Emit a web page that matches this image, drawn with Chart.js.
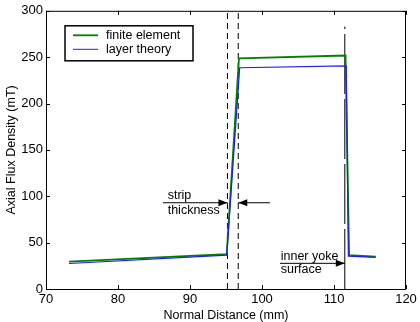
<!DOCTYPE html>
<html>
<head>
<meta charset="utf-8">
<script src="https://cdn.jsdelivr.net/npm/chart.js@4"></script>
<style>
  html, body { margin: 0; padding: 0; background: #fff; }
  #wrap { width: 420px; height: 322px; }
</style>
</head>
<body>
<div id="wrap"><canvas id="chart"></canvas></div>
<script>
// values
const feX = [73.2, 95.1, 96.8, 111.6, 112.1, 115.8];
const feY = [29.5, 37.5, 248.6, 251.8, 36.5, 35];
const ltX = [73.2, 95.1, 96.9, 111.7, 112.0, 115.8];
const ltY = [27.5, 36.5, 238.6, 240.5, 35.5, 34];
const xTicks = [70, 80, 90, 100, 110, 120];
const yTicks = [0, 50, 100, 150, 200, 250, 300];
const stripEdges = [95.2, 96.7];
const yokeX = 111.5;
const yokeTop = 283;

const FONT = '"Liberation Sans", Arial, Helvetica, sans-serif';
const pts = (xs, ys) => xs.map((x, i) => ({ x, y: ys[i] }));

function arrow(ctx, x1, y1, x2, y2) {
  ctx.beginPath();
  ctx.moveTo(x1, y1);
  ctx.lineTo(x2, y2);
  ctx.stroke();
  const dir = Math.sign(x2 - x1);
  ctx.beginPath();
  ctx.moveTo(x2, y2);
  ctx.lineTo(x2 - dir * 9, y2 - 3.5);
  ctx.lineTo(x2 - dir * 9, y2 + 3.5);
  ctx.closePath();
  ctx.fill();
}

const decor = {
  id: 'decor',
  afterDatasetsDraw(chart) {
    const { ctx, chartArea: a, scales: { x, y } } = chart;
    ctx.save();
    ctx.strokeStyle = '#000';
    ctx.fillStyle = '#000';
    ctx.lineWidth = 1;
    // box
    ctx.strokeRect(a.left + 0.5, a.top + 0.5, a.right - a.left - 1, a.bottom - a.top);
    // inner ticks
    ctx.beginPath();
    xTicks.forEach(v => {
      const px = Math.round(x.getPixelForValue(v)) + 0.5;
      ctx.moveTo(px, a.bottom); ctx.lineTo(px, a.bottom - 4);
      ctx.moveTo(px, a.top); ctx.lineTo(px, a.top + 4);
    });
    yTicks.forEach(v => {
      const py = Math.round(y.getPixelForValue(v)) + 0.5;
      ctx.moveTo(a.left, py); ctx.lineTo(a.left + 4, py);
      ctx.moveTo(a.right, py); ctx.lineTo(a.right - 4, py);
    });
    ctx.stroke();

    // annotations
    ctx.font = '12.5px ' + FONT;
    ctx.textBaseline = 'middle';
    ctx.textAlign = 'left';
    ctx.fillText('strip', x.getPixelForValue(86.9), y.getPixelForValue(101));
    ctx.fillText('thickness', x.getPixelForValue(86.9), y.getPixelForValue(85));
    ctx.fillText('inner yoke', x.getPixelForValue(102.6), y.getPixelForValue(35.5));
    ctx.fillText('surface', x.getPixelForValue(102.6), y.getPixelForValue(20.5));
    const ay = y.getPixelForValue(93);
    arrow(ctx, x.getPixelForValue(86.25), ay, x.getPixelForValue(stripEdges[0]), ay);
    arrow(ctx, x.getPixelForValue(101.1), ay, x.getPixelForValue(stripEdges[1]), ay);
    const by = y.getPixelForValue(27.7);
    arrow(ctx, x.getPixelForValue(102.5), by, x.getPixelForValue(yokeX), by);

    // legend
    const lx = a.left + 19, ly = a.top + 15;
    ctx.fillStyle = '#fff';
    ctx.fillRect(lx, ly, 128, 35);
    ctx.lineWidth = 1.5;
    ctx.strokeRect(lx, ly, 128, 35);
    const items = [['finite element', '#008000', 1.8], ['layer theory', '#1f1fe6', 1]];
    items.forEach(([label, color, w], i) => {
      const yy = ly + 9.5 + i * 14;
      ctx.strokeStyle = color;
      ctx.lineWidth = w;
      ctx.beginPath();
      ctx.moveTo(lx + 8, yy); ctx.lineTo(lx + 33, yy);
      ctx.stroke();
      ctx.fillStyle = '#000';
      ctx.fillText(label, lx + 41, yy);
    });
    ctx.restore();
  }
};

new Chart(document.getElementById('chart'), {
  type: 'line',
  data: {
    datasets: [
      { label: 'strip edge 1', data: [{ x: stripEdges[0], y: 0 }, { x: stripEdges[0], y: 300 }],
        borderColor: '#000', borderWidth: 1, borderDash: [6, 4], pointRadius: 0, order: 3 },
      { label: 'strip edge 2', data: [{ x: stripEdges[1], y: 0 }, { x: stripEdges[1], y: 300 }],
        borderColor: '#000', borderWidth: 1, borderDash: [6, 4], pointRadius: 0, order: 3 },
      { label: 'yoke', data: [{ x: yokeX, y: 0 }, { x: yokeX, y: yokeTop }],
        borderColor: '#000', borderWidth: 1, borderDash: [60, 5], pointRadius: 0, order: 3 },
      { label: 'finite element', data: pts(feX, feY),
        borderColor: '#008000', borderWidth: 1.8, pointRadius: 0, tension: 0, order: 2 },
      { label: 'layer theory', data: pts(ltX, ltY),
        borderColor: '#1f1fe6', borderWidth: 1.2, pointRadius: 0, tension: 0, order: 1 },
    ],
  },
  options: {
    responsive: true,
    maintainAspectRatio: false,
    animation: false,
    layout: { padding: { left: 4, top: 7, right: 14, bottom: 0 } },
    plugins: { legend: { display: false }, tooltip: { enabled: false } },
    scales: {
      x: {
        type: 'linear', min: 70, max: 120,
        afterBuildTicks: s => { s.ticks = xTicks.map(v => ({ value: v })); },
        afterFit: s => { s.height = 33; },
        grid: { display: false, drawTicks: false },
        border: { display: false },
        ticks: { color: '#000', font: { family: FONT, size: 13 }, padding: 3, maxRotation: 0 },
        title: { display: true, text: 'Normal Distance (mm)', color: '#000',
                 font: { family: FONT, size: 12.5, lineHeight: 1 }, padding: { top: 0, bottom: 0 } },
      },
      y: {
        min: 0, max: 300,
        afterBuildTicks: s => { s.ticks = yTicks.map(v => ({ value: v })); },
        afterFit: s => { s.width = 42; },
        grid: { display: false, drawTicks: false },
        border: { display: false },
        ticks: { color: '#000', font: { family: FONT, size: 13 }, padding: 3 },
        title: { display: true, text: 'Axial Flux Density (mT)', color: '#000',
                 font: { family: FONT, size: 12.5 }, padding: { top: 0, bottom: 0 } },
      },
    },
  },
  plugins: [decor],
});
</script>
</body>
</html>
